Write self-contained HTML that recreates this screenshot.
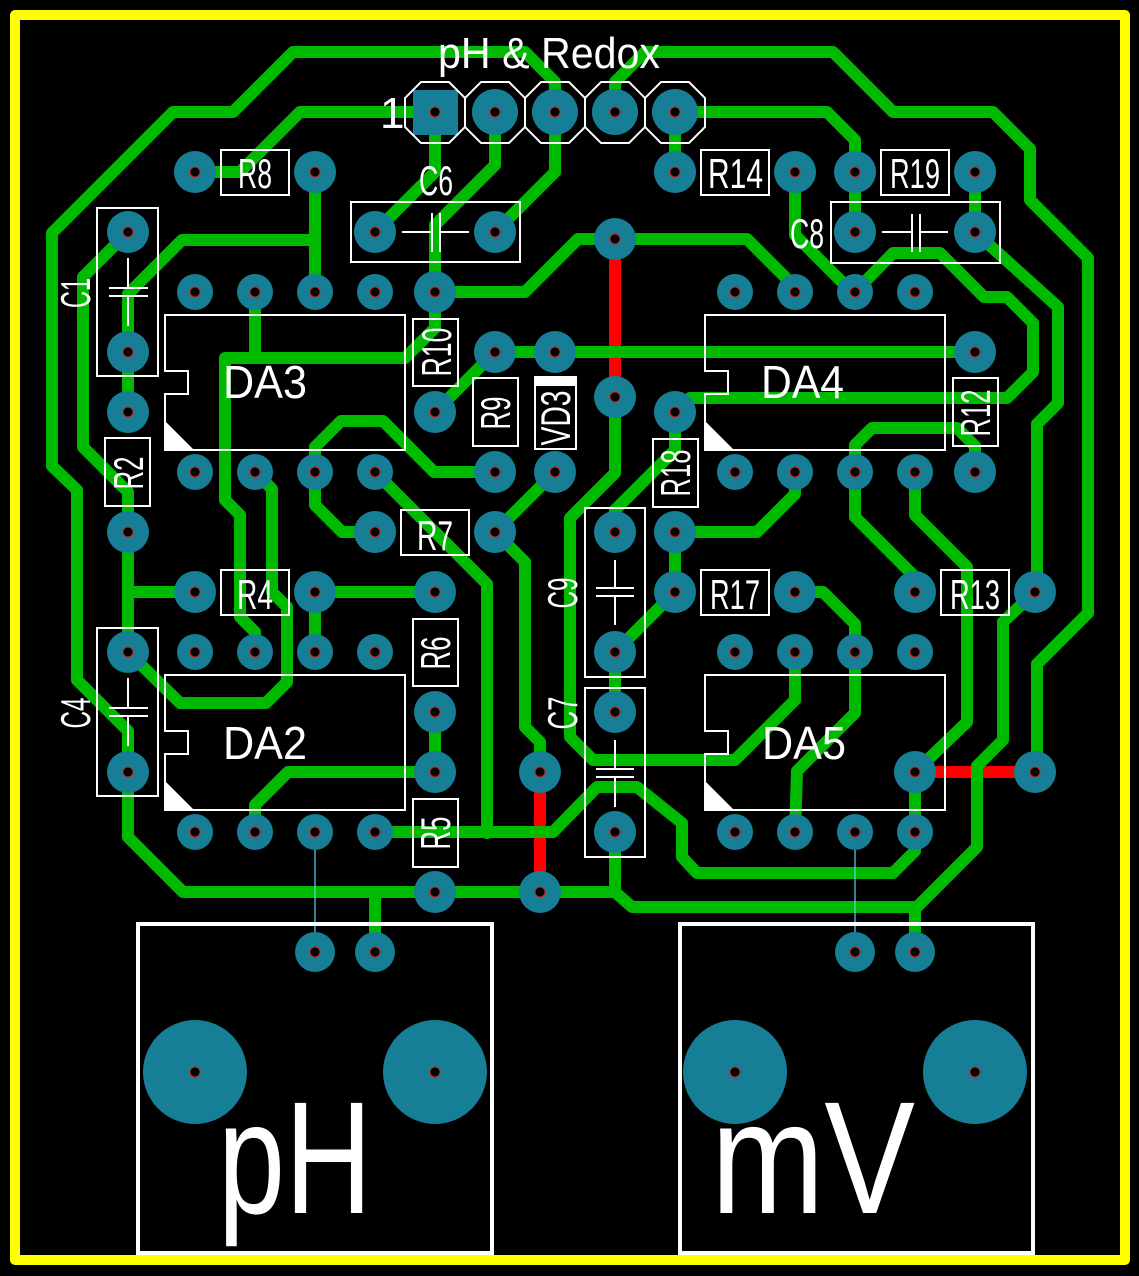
<!DOCTYPE html>
<html><head><meta charset="utf-8"><style>html,body{margin:0;padding:0;background:#000}svg{display:block}</style></head>
<body>
<svg width="1139" height="1276" viewBox="0 0 1139 1276" xmlns="http://www.w3.org/2000/svg">
<rect x="0" y="0" width="1139" height="1276" fill="#000"/>
<!-- board outline -->
<rect x="15" y="15" width="1110" height="1245" fill="none" stroke="#ffff00" stroke-width="10" stroke-linejoin="round"/>

<!-- red traces -->
<g fill="none" stroke="#ff0000" stroke-width="12">
<path d="M615,239 L615,397"/>
<path d="M540,772 L540,892"/>
<path d="M915,772 L1035,772"/>
</g>

<!-- green traces -->
<g fill="none" stroke="#00ba00" stroke-width="12" stroke-linejoin="round" stroke-linecap="round">
<path d="M555,112 L555,82 L525,52 L293,52 L233,112 L173,112 L52,233 L52,466 L77,490 L77,680 L128,731 L128,772"/>
<path d="M128,772 L128,837 L183,892 L615,892 L632,907 L917,907 L977,847 L977,766 L1003,740 L1003,622 L1035,592"/>
<path d="M375,892 L375,952"/>
<path d="M915,907 L915,952"/>
<path d="M615,832 L615,892"/>
<path d="M615,112 L615,82 L645,52 L833,52 L893,112 L993,112 L1030,149 L1030,200 L1088,258 L1088,613 L1037,664 L1037,772"/>
<path d="M195,172 L240,172 L300,112 L435,112"/>
<path d="M435,112 L435,172 L375,232"/>
<path d="M495,112 L495,165 L435,225 L435,292"/>
<path d="M555,112 L555,172 L495,232"/>
<path d="M675,112 L675,172"/>
<path d="M675,112 L827,112 L855,140 L855,232"/>
<path d="M975,172 L975,232"/>
<path d="M975,232 L1058,307 L1058,403 L1037,424 L1037,592"/>
<path d="M795,172 L795,235 L852,292"/>
<path d="M855,292 L893,253 L940,253 L984,297 L1007,297 L1033,323 L1033,372 L1007,398 L690,398 L675,412"/>
<path d="M495,352 L975,352"/>
<path d="M495,352 L435,412"/>
<path d="M435,292 L435,328 L405,358 L225,358 L225,500 L240,515 L240,617 L255,632 L255,652"/>
<path d="M255,292 L255,358"/>
<path d="M435,292 L525,292 L578,239 L747,239 L795,287"/>
<path d="M615,397 L615,473 L570,518 L570,737 L593,760 L735,760 L795,700 L795,652"/>
<path d="M315,172 L315,292"/>
<path d="M315,240 L182,240 L128,294 L128,412"/>
<path d="M128,232 L83,277 L83,447 L128,492 L128,652"/>
<path d="M128,592 L195,592"/>
<path d="M128,652 L180,703 L266,703 L287,682 L287,607 L272,592 L272,489 L255,472"/>
<path d="M315,592 L435,592"/>
<path d="M315,592 L315,652"/>
<path d="M315,472 L315,447 L341,421 L383,421 L434,472 L495,472"/>
<path d="M315,472 L315,505 L342,532 L375,532"/>
<path d="M375,472 L487,584 L487,833"/>
<path d="M495,532 L555,472"/>
<path d="M495,532 L525,562 L525,727 L540,742 L540,772"/>
<path d="M375,832 L553,832 L597,787 L637,787 L682,823 L682,857 L697,873 L893,873 L915,851 L915,832"/>
<path d="M255,832 L255,805 L288,772 L435,772"/>
<path d="M435,712 L435,772"/>
<path d="M795,592 L823,592 L855,624 L855,713 L797,771 L795,832"/>
<path d="M675,412 L675,450 L615,510 L615,532"/>
<path d="M675,532 L757,532 L795,494 L795,472"/>
<path d="M675,532 L675,592"/>
<path d="M675,592 L615,652"/>
<path d="M615,652 L615,712"/>
<path d="M855,472 L855,445 L872,428 L957,428 L975,446 L975,472"/>
<path d="M855,472 L855,517 L915,577 L915,592"/>
<path d="M915,472 L915,515 L967,567 L967,722 L915,772"/>
<path d="M915,772 L915,832"/>
</g>

<!-- thin cyan airwires -->
<g stroke="#5ad8f0" stroke-width="1.2">
<line x1="315" y1="832" x2="315" y2="952"/>
<line x1="855" y1="832" x2="855" y2="952"/>
</g>

<!-- pads -->
<g fill="#167f95">
<!-- header -->
<rect x="413" y="90" width="45" height="45"/>
<circle cx="495" cy="112" r="23"/><circle cx="555" cy="112" r="23"/><circle cx="615" cy="112" r="23"/><circle cx="675" cy="112" r="23"/>
<!-- resistor/cap pads -->
<circle cx="195" cy="172" r="21"/><circle cx="315" cy="172" r="21"/>
<circle cx="675" cy="172" r="21"/><circle cx="795" cy="172" r="21"/>
<circle cx="855" cy="172" r="21"/><circle cx="975" cy="172" r="21"/>
<circle cx="375" cy="232" r="21"/><circle cx="495" cy="232" r="21"/>
<circle cx="855" cy="232" r="21"/><circle cx="975" cy="232" r="21"/>
<circle cx="128" cy="232" r="21"/><circle cx="128" cy="352" r="21"/>
<circle cx="128" cy="412" r="21"/><circle cx="128" cy="532" r="21"/>
<circle cx="128" cy="652" r="21"/><circle cx="128" cy="772" r="21"/>
<circle cx="435" cy="292" r="21"/><circle cx="435" cy="412" r="21"/>
<circle cx="495" cy="352" r="21"/><circle cx="495" cy="472" r="21"/>
<circle cx="555" cy="352" r="21"/><circle cx="555" cy="472" r="21"/>
<circle cx="615" cy="239" r="21"/><circle cx="615" cy="397" r="21"/>
<circle cx="675" cy="412" r="21"/><circle cx="675" cy="532" r="21"/>
<circle cx="975" cy="352" r="21"/><circle cx="975" cy="472" r="21"/>
<circle cx="375" cy="532" r="21"/><circle cx="495" cy="532" r="21"/>
<circle cx="195" cy="592" r="21"/><circle cx="315" cy="592" r="21"/>
<circle cx="435" cy="592" r="21"/><circle cx="435" cy="712" r="21"/>
<circle cx="435" cy="772" r="21"/><circle cx="435" cy="892" r="21"/>
<circle cx="540" cy="772" r="21"/><circle cx="540" cy="892" r="21"/>
<circle cx="615" cy="532" r="21"/><circle cx="615" cy="652" r="21"/>
<circle cx="615" cy="712" r="21"/><circle cx="615" cy="832" r="21"/>
<circle cx="675" cy="592" r="21"/><circle cx="795" cy="592" r="21"/>
<circle cx="915" cy="592" r="21"/><circle cx="1035" cy="592" r="21"/>
<circle cx="915" cy="772" r="21"/><circle cx="1035" cy="772" r="21"/>
<!-- IC pads -->
<circle cx="195" cy="292" r="18"/><circle cx="255" cy="292" r="18"/><circle cx="315" cy="292" r="18"/><circle cx="375" cy="292" r="18"/>
<circle cx="195" cy="472" r="18"/><circle cx="255" cy="472" r="18"/><circle cx="315" cy="472" r="18"/><circle cx="375" cy="472" r="18"/>
<circle cx="735" cy="292" r="18"/><circle cx="795" cy="292" r="18"/><circle cx="855" cy="292" r="18"/><circle cx="915" cy="292" r="18"/>
<circle cx="735" cy="472" r="18"/><circle cx="795" cy="472" r="18"/><circle cx="855" cy="472" r="18"/><circle cx="915" cy="472" r="18"/>
<circle cx="195" cy="652" r="18"/><circle cx="255" cy="652" r="18"/><circle cx="315" cy="652" r="18"/><circle cx="375" cy="652" r="18"/>
<circle cx="195" cy="832" r="18"/><circle cx="255" cy="832" r="18"/><circle cx="315" cy="832" r="18"/><circle cx="375" cy="832" r="18"/>
<circle cx="735" cy="652" r="18"/><circle cx="795" cy="652" r="18"/><circle cx="855" cy="652" r="18"/><circle cx="915" cy="652" r="18"/>
<circle cx="735" cy="832" r="18"/><circle cx="795" cy="832" r="18"/><circle cx="855" cy="832" r="18"/><circle cx="915" cy="832" r="18"/>
<!-- connector pads -->
<circle cx="315" cy="952" r="20"/><circle cx="375" cy="952" r="20"/>
<circle cx="855" cy="952" r="20"/><circle cx="915" cy="952" r="20"/>
<circle cx="195" cy="1072" r="52"/><circle cx="435" cy="1072" r="52"/>
<circle cx="735" cy="1072" r="52"/><circle cx="975" cy="1072" r="52"/>
</g>

<!-- holes -->
<g fill="#000" stroke="#d02020" stroke-width="1">
<circle cx="435" cy="112" r="5"/><circle cx="495" cy="112" r="5"/><circle cx="555" cy="112" r="5"/><circle cx="615" cy="112" r="5"/><circle cx="675" cy="112" r="5"/>
<circle cx="195" cy="172" r="5"/><circle cx="315" cy="172" r="5"/><circle cx="675" cy="172" r="5"/><circle cx="795" cy="172" r="5"/><circle cx="855" cy="172" r="5"/><circle cx="975" cy="172" r="5"/>
<circle cx="375" cy="232" r="5"/><circle cx="495" cy="232" r="5"/><circle cx="855" cy="232" r="5"/><circle cx="975" cy="232" r="5"/>
<circle cx="128" cy="232" r="5"/><circle cx="128" cy="352" r="5"/><circle cx="128" cy="412" r="5"/><circle cx="128" cy="532" r="5"/><circle cx="128" cy="652" r="5"/><circle cx="128" cy="772" r="5"/>
<circle cx="435" cy="292" r="5"/><circle cx="435" cy="412" r="5"/><circle cx="495" cy="352" r="5"/><circle cx="495" cy="472" r="5"/>
<circle cx="555" cy="352" r="5"/><circle cx="555" cy="472" r="5"/><circle cx="615" cy="239" r="5"/><circle cx="615" cy="397" r="5"/>
<circle cx="675" cy="412" r="5"/><circle cx="675" cy="532" r="5"/><circle cx="975" cy="352" r="5"/><circle cx="975" cy="472" r="5"/>
<circle cx="375" cy="532" r="5"/><circle cx="495" cy="532" r="5"/><circle cx="195" cy="592" r="5"/><circle cx="315" cy="592" r="5"/>
<circle cx="435" cy="592" r="5"/><circle cx="435" cy="712" r="5"/><circle cx="435" cy="772" r="5"/><circle cx="435" cy="892" r="5"/>
<circle cx="540" cy="772" r="5"/><circle cx="540" cy="892" r="5"/><circle cx="615" cy="532" r="5"/><circle cx="615" cy="652" r="5"/>
<circle cx="615" cy="712" r="5"/><circle cx="615" cy="832" r="5"/><circle cx="675" cy="592" r="5"/><circle cx="795" cy="592" r="5"/>
<circle cx="915" cy="592" r="5"/><circle cx="1035" cy="592" r="5"/><circle cx="915" cy="772" r="5"/><circle cx="1035" cy="772" r="5"/>
<circle cx="195" cy="292" r="5"/><circle cx="255" cy="292" r="5"/><circle cx="315" cy="292" r="5"/><circle cx="375" cy="292" r="5"/>
<circle cx="195" cy="472" r="5"/><circle cx="255" cy="472" r="5"/><circle cx="315" cy="472" r="5"/><circle cx="375" cy="472" r="5"/>
<circle cx="735" cy="292" r="5"/><circle cx="795" cy="292" r="5"/><circle cx="855" cy="292" r="5"/><circle cx="915" cy="292" r="5"/>
<circle cx="735" cy="472" r="5"/><circle cx="795" cy="472" r="5"/><circle cx="855" cy="472" r="5"/><circle cx="915" cy="472" r="5"/>
<circle cx="195" cy="652" r="5"/><circle cx="255" cy="652" r="5"/><circle cx="315" cy="652" r="5"/><circle cx="375" cy="652" r="5"/>
<circle cx="195" cy="832" r="5"/><circle cx="255" cy="832" r="5"/><circle cx="315" cy="832" r="5"/><circle cx="375" cy="832" r="5"/>
<circle cx="735" cy="652" r="5"/><circle cx="795" cy="652" r="5"/><circle cx="855" cy="652" r="5"/><circle cx="915" cy="652" r="5"/>
<circle cx="735" cy="832" r="5"/><circle cx="795" cy="832" r="5"/><circle cx="855" cy="832" r="5"/><circle cx="915" cy="832" r="5"/>
<circle cx="315" cy="952" r="5"/><circle cx="375" cy="952" r="5"/><circle cx="855" cy="952" r="5"/><circle cx="915" cy="952" r="5"/>
<circle cx="195" cy="1072" r="5"/><circle cx="435" cy="1072" r="5"/><circle cx="735" cy="1072" r="5"/><circle cx="975" cy="1072" r="5"/>
</g>

<!-- silkscreen outlines -->
<g fill="none" stroke="#fff" stroke-width="2">
<!-- header octagons -->
<polygon points="421,82 449,82 465,98 465,127 449,143 421,143 405,127 405,98"/>
<polygon points="481,82 509,82 525,98 525,127 509,143 481,143 465,127 465,98"/>
<polygon points="541,82 569,82 585,98 585,127 569,143 541,143 525,127 525,98"/>
<polygon points="601,82 629,82 645,98 645,127 629,143 601,143 585,127 585,98"/>
<polygon points="661,82 689,82 705,98 705,127 689,143 661,143 645,127 645,98"/>
<!-- resistor boxes -->
<rect x="221" y="150" width="68" height="45"/>
<rect x="701" y="150" width="68" height="45"/>
<rect x="881" y="150" width="68" height="45"/>
<rect x="413" y="319" width="45" height="67"/>
<rect x="473" y="378" width="45" height="68"/>
<rect x="535" y="377" width="41" height="72"/>
<rect x="653" y="439" width="45" height="68"/>
<rect x="953" y="378" width="45" height="68"/>
<rect x="105" y="438" width="45" height="68"/>
<rect x="401" y="510" width="68" height="45"/>
<rect x="221" y="570" width="68" height="45"/>
<rect x="413" y="619" width="45" height="67"/>
<rect x="413" y="799" width="45" height="68"/>
<rect x="701" y="570" width="68" height="45"/>
<rect x="941" y="570" width="68" height="45"/>
<!-- capacitor boxes -->
<rect x="351" y="202" width="169" height="60"/>
<rect x="831" y="202" width="169" height="61"/>
<rect x="97" y="208" width="61" height="168"/>
<rect x="97" y="628" width="61" height="168"/>
<rect x="585" y="508" width="60" height="169"/>
<rect x="585" y="688" width="60" height="169"/>
<!-- capacitor symbols -->
<path d="M402,232 H432 M432,213 V252 M440,213 V252 M440,232 H469"/>
<path d="M882,232 H912 M912,214 V252 M920,214 V252 M920,232 H948"/>
<path d="M128,258 V288 M109,288 H148 M109,296 H148 M128,296 V326"/>
<path d="M128,678 V708 M109,708 H148 M109,716 H148 M128,716 V746"/>
<path d="M615,560 V588 M596,588 H634 M596,596 H634 M615,596 V625"/>
<path d="M615,740 V769 M596,769 H634 M596,777 H634 M615,777 V807"/>
<!-- IC outlines -->
<path d="M165,315 H405 V450 H165 V394 H188 V371 H165 Z"/>
<path d="M705,315 H945 V450 H705 V394 H728 V371 H705 Z"/>
<path d="M165,675 H405 V810 H165 V754 H188 V731 H165 Z"/>
<path d="M705,675 H945 V810 H705 V754 H728 V731 H705 Z"/>
</g>
<g fill="#fff">
<polygon points="165,421 165,450 194,450"/>
<polygon points="705,421 705,450 734,450"/>
<polygon points="165,781 165,810 194,810"/>
<polygon points="705,781 705,810 734,810"/>
<rect x="535" y="377" width="41" height="9"/>
</g>
<!-- connector boxes -->
<g fill="none" stroke="#fff" stroke-width="4">
<rect x="138" y="924" width="354" height="329"/>
<rect x="680" y="924" width="353" height="329"/>
</g>

<!-- text -->
<g fill="#fff" font-family="'Liberation Sans', sans-serif" font-size="42">
<text x="438" y="68" font-size="44" textLength="222" lengthAdjust="spacingAndGlyphs">pH &amp; Redox</text>
<text x="380" y="128" font-size="44">1</text>
<text x="238" y="188" textLength="34" lengthAdjust="spacingAndGlyphs">R8</text>
<text x="708" y="188" textLength="55" lengthAdjust="spacingAndGlyphs">R14</text>
<text x="890" y="188" textLength="50" lengthAdjust="spacingAndGlyphs">R19</text>
<text x="419" y="195" textLength="34" lengthAdjust="spacingAndGlyphs">C6</text>
<text x="790" y="248" textLength="34" lengthAdjust="spacingAndGlyphs">C8</text>
<text x="417" y="550" textLength="36" lengthAdjust="spacingAndGlyphs">R7</text>
<text x="237" y="609" textLength="36" lengthAdjust="spacingAndGlyphs">R4</text>
<text x="710" y="609" textLength="50" lengthAdjust="spacingAndGlyphs">R17</text>
<text x="950" y="609" textLength="50" lengthAdjust="spacingAndGlyphs">R13</text>
<text x="223" y="398" font-size="46" textLength="84" lengthAdjust="spacingAndGlyphs">DA3</text>
<text x="761" y="398" font-size="46" textLength="83" lengthAdjust="spacingAndGlyphs">DA4</text>
<text x="223" y="759" font-size="46" textLength="84" lengthAdjust="spacingAndGlyphs">DA2</text>
<text x="762" y="759" font-size="46" textLength="84" lengthAdjust="spacingAndGlyphs">DA5</text>
<!-- rotated labels -->
<text transform="translate(436,352) rotate(-90)" x="0" y="15" text-anchor="middle" textLength="49" lengthAdjust="spacingAndGlyphs">R10</text>
<text transform="translate(495,413) rotate(-90)" x="0" y="15" text-anchor="middle" textLength="33" lengthAdjust="spacingAndGlyphs">R9</text>
<text transform="translate(555,418) rotate(-90)" x="0" y="15" text-anchor="middle" textLength="55" lengthAdjust="spacingAndGlyphs">VD3</text>
<text transform="translate(675,473) rotate(-90)" x="0" y="15" text-anchor="middle" textLength="47" lengthAdjust="spacingAndGlyphs">R18</text>
<text transform="translate(975,413) rotate(-90)" x="0" y="15" text-anchor="middle" textLength="47" lengthAdjust="spacingAndGlyphs">R12</text>
<text transform="translate(128,473) rotate(-90)" x="0" y="15" text-anchor="middle" textLength="33" lengthAdjust="spacingAndGlyphs">R2</text>
<text transform="translate(435,653) rotate(-90)" x="0" y="15" text-anchor="middle" textLength="33" lengthAdjust="spacingAndGlyphs">R6</text>
<text transform="translate(435,833) rotate(-90)" x="0" y="15" text-anchor="middle" textLength="33" lengthAdjust="spacingAndGlyphs">R5</text>
<text transform="translate(75,293) rotate(-90)" x="0" y="15" text-anchor="middle" textLength="30" lengthAdjust="spacingAndGlyphs">C1</text>
<text transform="translate(75,713) rotate(-90)" x="0" y="15" text-anchor="middle" textLength="31" lengthAdjust="spacingAndGlyphs">C4</text>
<text transform="translate(562,593) rotate(-90)" x="0" y="15" text-anchor="middle" textLength="31" lengthAdjust="spacingAndGlyphs">C9</text>
<text transform="translate(562,713) rotate(-90)" x="0" y="15" text-anchor="middle" textLength="33" lengthAdjust="spacingAndGlyphs">C7</text>
<!-- big connector labels -->
<text x="218" y="1213" font-size="160" textLength="154" lengthAdjust="spacingAndGlyphs">pH</text>
<text x="711" y="1213" font-size="160" textLength="204" lengthAdjust="spacingAndGlyphs">mV</text>
</g>
</svg>
</body></html>
